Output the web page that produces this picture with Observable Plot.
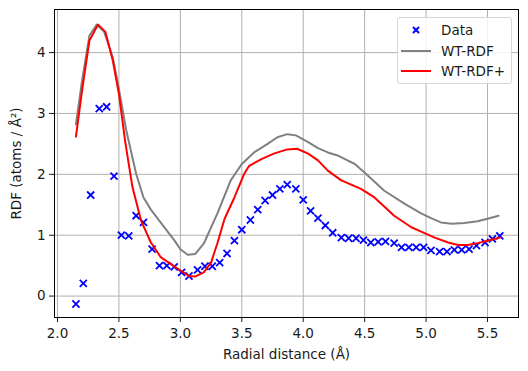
<!DOCTYPE html>
<html>
<head>
<meta charset="utf-8">
<script src="https://cdn.jsdelivr.net/npm/d3@7"></script>
<script src="https://cdn.jsdelivr.net/npm/@observablehq/plot@0.6"></script>
<style>
  html, body { margin: 0; padding: 0; background: white; }
  #wrap { position: relative; width: 528px; height: 371px; font-family: "DejaVu Sans", sans-serif; }
  #legend { position: absolute; left: 397px; top: 17px; width: 113px; height: 65px;
    border: 1px solid #d6d6d6; border-radius: 3px; background: rgba(255,255,255,0.85);
    font-size: 13.5px; color: #1a1a1a; }
  .row { position: absolute; left: 0; height: 20px; display: flex; align-items: center; }
  .row svg { margin-left: 3px; }
  .row span { margin-left: 10px; }
</style>
</head>
<body>
<div id="wrap"></div>
<script>
const dataX = [2.15,2.21,2.27,2.34,2.40,2.46,2.52,2.58,2.64,2.70,2.77,2.83,2.89,2.95,3.01,3.07,3.14,3.20,3.26,3.32,3.38,3.44,3.50,3.57,3.63,3.69,3.75,3.81,3.87,3.94,4.00,4.06,4.12,4.18,4.24,4.31,4.37,4.43,4.49,4.55,4.61,4.67,4.74,4.80,4.86,4.92,4.98,5.04,5.11,5.17,5.23,5.29,5.35,5.41,5.48,5.54,5.60];
const dataY = [-0.13,0.21,1.66,3.08,3.11,1.97,1.00,0.99,1.32,1.21,0.77,0.50,0.50,0.48,0.39,0.33,0.43,0.49,0.49,0.55,0.70,0.91,1.09,1.25,1.42,1.57,1.66,1.76,1.83,1.76,1.58,1.40,1.28,1.16,1.04,0.96,0.95,0.95,0.92,0.88,0.89,0.90,0.87,0.80,0.80,0.80,0.80,0.75,0.73,0.73,0.76,0.76,0.77,0.83,0.88,0.94,0.99];

const grayX = [2.15,2.20,2.26,2.32,2.38,2.45,2.50,2.56,2.64,2.70,2.76,2.87,2.95,3.00,3.06,3.12,3.19,3.30,3.41,3.50,3.60,3.71,3.79,3.87,3.94,4.04,4.12,4.20,4.28,4.34,4.42,4.51,4.66,4.83,4.96,5.04,5.12,5.21,5.31,5.42,5.50,5.59];
const grayY = [2.82,3.54,4.28,4.46,4.34,3.92,3.40,2.72,2.01,1.62,1.42,1.13,0.92,0.77,0.68,0.69,0.86,1.35,1.90,2.17,2.36,2.50,2.61,2.66,2.64,2.53,2.43,2.36,2.31,2.25,2.17,2.01,1.73,1.51,1.36,1.28,1.21,1.19,1.20,1.23,1.27,1.32];

const redX = [2.15,2.20,2.26,2.33,2.39,2.45,2.50,2.55,2.61,2.68,2.76,2.84,2.92,3.00,3.07,3.12,3.19,3.25,3.30,3.36,3.44,3.52,3.56,3.66,3.76,3.87,3.95,4.04,4.12,4.20,4.31,4.47,4.58,4.74,4.88,4.96,5.07,5.18,5.26,5.34,5.42,5.50,5.60];
const redY = [2.62,3.38,4.20,4.46,4.34,3.87,3.32,2.55,1.79,1.24,0.88,0.64,0.53,0.42,0.33,0.32,0.39,0.55,0.86,1.27,1.62,2.01,2.14,2.25,2.34,2.41,2.42,2.34,2.23,2.06,1.90,1.76,1.62,1.32,1.13,1.06,0.96,0.88,0.84,0.84,0.87,0.91,0.96];

const xTicks = [2.0,2.5,3.0,3.5,4.0,4.5,5.0,5.5];
const yTicks = [0,1,2,3,4];

const pts = dataX.map((x,i)=>({x, y: dataY[i]}));
const gray = grayX.map((x,i)=>({x, y: grayY[i]}));
const red = redX.map((x,i)=>({x, y: redY[i]}));

const chart = Plot.plot({
  width: 528, height: 371,
  marginLeft: 54, marginRight: 10, marginTop: 9, marginBottom: 54,
  style: { fontFamily: "DejaVu Sans, sans-serif", fontSize: "13.5px", color: "#1a1a1a", background: "white" },
  x: { domain: [1.9756, 5.7522], ticks: xTicks, tickFormat: d3.format(".1f"), tickSize: 5, tickPadding: 6,
       label: "Radial distance (Å)", labelAnchor: "center", labelArrow: "none", labelOffset: 41 },
  y: { domain: [-0.352, 4.708], ticks: yTicks, tickFormat: d3.format("d"), tickSize: 5, tickPadding: 4,
       label: "RDF (atoms / Å²)", labelAnchor: "center", labelArrow: "none", labelOffset: 43 },
  marks: [
    Plot.ruleX(xTicks, { stroke: "#b0b0b0", strokeWidth: 1 }),
    Plot.ruleY(yTicks, { stroke: "#b0b0b0", strokeWidth: 1 }),
    Plot.dot(pts, { x: "x", y: "y", symbol: "times", r: 3.3, stroke: "#0000ff", strokeWidth: 1.8 }),
    Plot.line(gray, { x: "x", y: "y", stroke: "#808080", strokeWidth: 2 }),
    Plot.line(red, { x: "x", y: "y", stroke: "#ff0000", strokeWidth: 2 }),
    Plot.frame({ stroke: "black", strokeWidth: 1 })
  ]
});
const wrap = document.getElementById("wrap");
wrap.appendChild(chart);

const legendItems = [
  { label: "Data", kind: "marker", color: "#0000ff" },
  { label: "WT-RDF", kind: "line", color: "#808080" },
  { label: "WT-RDF+", kind: "line", color: "#ff0000" }
];
const leg = document.createElement("div");
leg.id = "legend";
legendItems.forEach((it, i) => {
  const row = document.createElement("div");
  row.className = "row";
  row.style.top = (2 + i * 20.5) + "px";
  const handle = it.kind === "marker"
    ? `<svg width="30" height="20"><path d="M12,7L18,13M18,7L12,13" stroke="${it.color}" stroke-width="2"/></svg>`
    : `<svg width="30" height="20"><line x1="0" y1="10" x2="30" y2="10" stroke="${it.color}" stroke-width="2"/></svg>`;
  row.innerHTML = handle + `<span>${it.label}</span>`;
  leg.appendChild(row);
});
wrap.appendChild(leg);
</script>
</body>
</html>
